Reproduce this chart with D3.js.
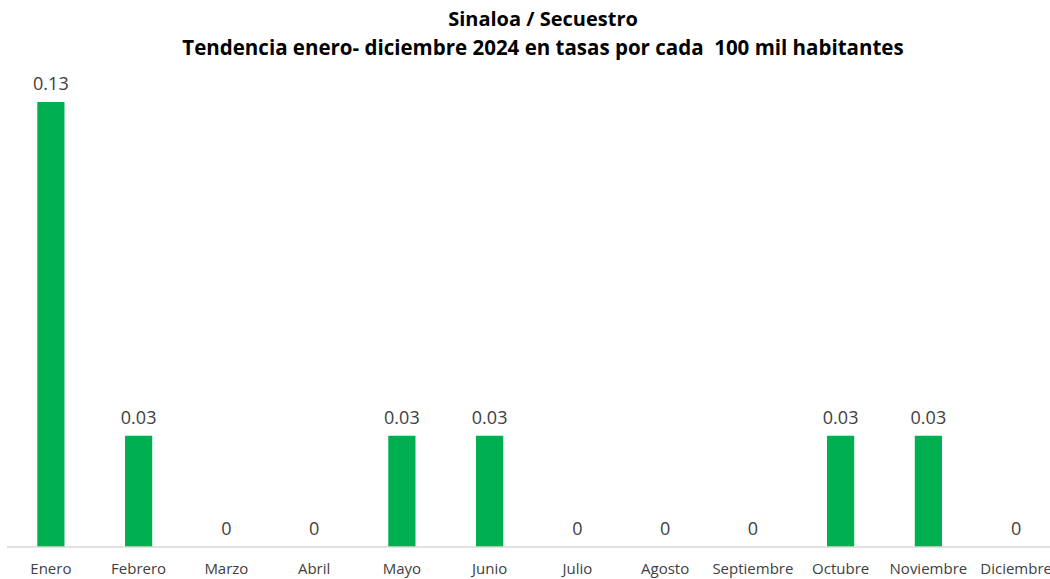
<!DOCTYPE html>
<html>
<head>
<meta charset="utf-8">
<script src="https://cdn.jsdelivr.net/npm/d3@7"></script>
<style>
  body { margin: 0; background: #fff; }
  svg { display: block; font-family: "Open Sans", "Noto Sans", sans-serif; }
</style>
</head>
<body>
<div class="canva"></div>
<script>
const months = ["Enero", "Febrero", "Marzo", "Abril", "Mayo", "Junio", "Julio", "Agosto", "Septiembre", "Octubre", "Noviembre", "Diciembre"];
// tasas por cada 100 mil habitantes (estimadas del gráfico)
const tasas = [0.13, 0.0325, 0, 0, 0.0325, 0.0325, 0, 0, 0, 0.0325, 0.0325, 0];

const WIDTH = 1050;
const HEIGHT = 579;
const BASE_Y = 547;

const svg = d3.select(".canva").append("svg")
    .attr("width", WIDTH)
    .attr("height", HEIGHT);

const x = d3.scaleBand()
    .domain(months)
    .range([7, 1060])
    .paddingInner(0.69)
    .paddingOuter(0.345);

const y = d3.scaleLinear()
    .domain([0, 0.13])
    .range([BASE_Y, 102]);

const fmt = v => v === 0 ? "0" : v.toFixed(2);

// title
svg.append("text")
    .attr("x", 543).attr("y", 26)
    .attr("text-anchor", "middle")
    .attr("font-size", 20).attr("font-weight", "bold")
    .attr("fill", "#000")
    .text("Sinaloa / Secuestro");
svg.append("text")
    .attr("x", 543).attr("y", 55)
    .attr("text-anchor", "middle")
    .attr("font-size", 20.5).attr("font-weight", "bold")
    .attr("fill", "#000")
    .text("Tendencia enero- diciembre 2024 en tasas por cada\u00a0 100 mil habitantes");

// bars
svg.append("g").selectAll("rect")
    .data(tasas)
    .enter().append("rect")
    .attr("x", (d, i) => x(months[i]))
    .attr("y", d => y(d))
    .attr("width", x.bandwidth())
    .attr("height", d => BASE_Y - y(d))
    .attr("fill", "#00B050");

// value labels
svg.append("g").selectAll("text")
    .data(tasas)
    .enter().append("text")
    .attr("x", (d, i) => x(months[i]) + x.bandwidth() / 2)
    .attr("y", d => y(d) - 12)
    .attr("text-anchor", "middle")
    .attr("font-size", 18)
    .attr("fill", "#404040")
    .text(d => fmt(d));

// x axis
const xAxis = svg.append("g")
    .attr("transform", `translate(0, ${BASE_Y})`)
    .call(d3.axisBottom(x).tickSize(0).tickPadding(16));
xAxis.select(".domain").attr("stroke", "#d9d9d9").attr("stroke-width", 1.5)
    .attr("d", `M7,0H1060`);
xAxis.selectAll("text")
    .attr("font-size", 15)
    .attr("font-family", "\"Open Sans\", sans-serif")
    .attr("fill", "#404040");
</script>
</body>
</html>
